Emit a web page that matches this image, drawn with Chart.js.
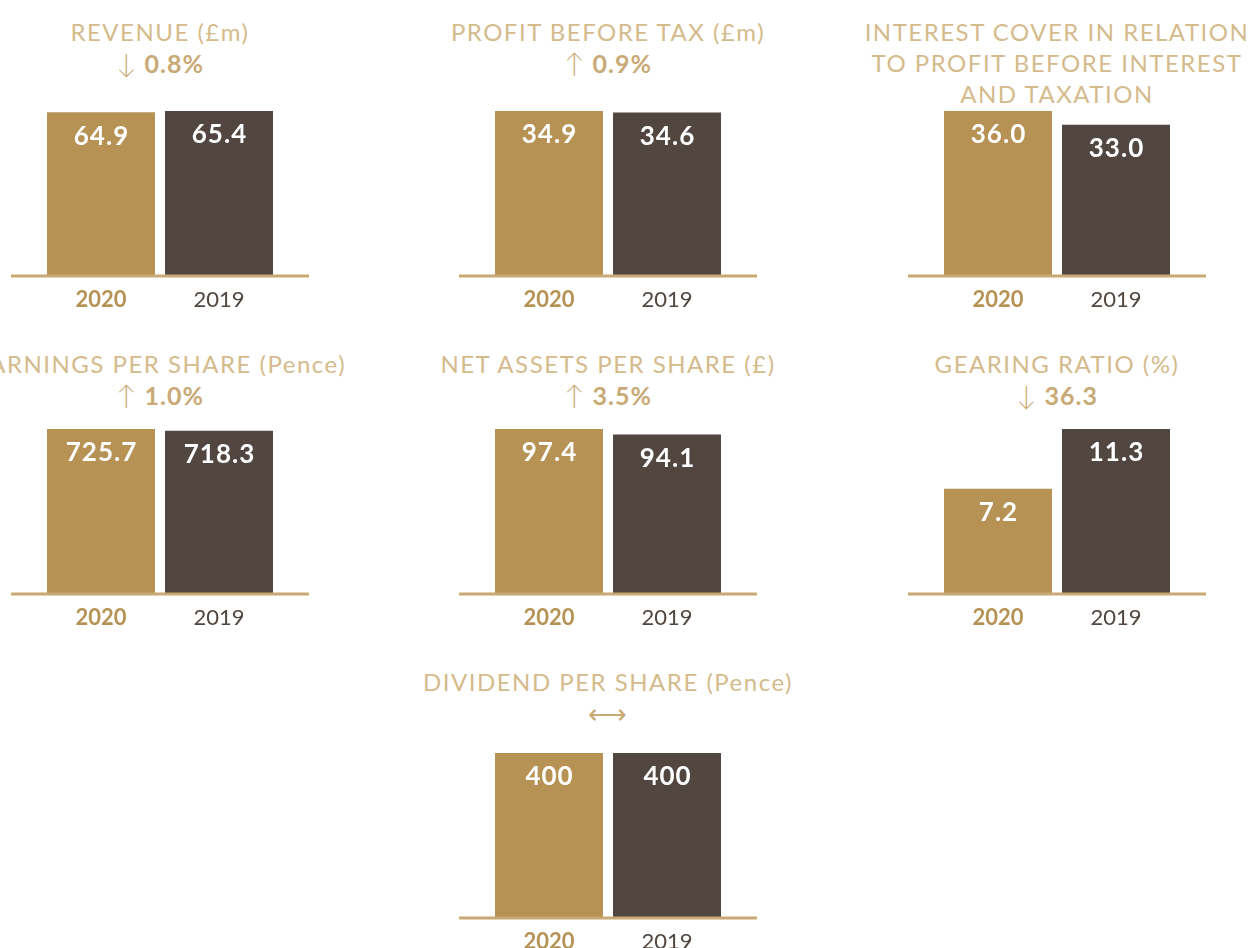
<!DOCTYPE html>
<html>
<head>
<meta charset="utf-8">
<script src="https://cdn.jsdelivr.net/npm/chart.js@4.4.0/dist/chart.umd.min.js"></script>
<style>
  html, body { margin: 0; padding: 0; background: #fff; }
  body { width: 1252px; height: 948px; position: relative; overflow: hidden; font-family: "Lato", "Noto Sans", sans-serif; }
  .titulo { position: absolute; width: 600px; text-align: center; white-space: nowrap;
            font-size: 24px; font-weight: 400; line-height: 31px; color: #d5bb8c; letter-spacing: 1.5px; }
  .titulo .cambio { color: #c9aa76; font-size: 25px; letter-spacing: 1px; }
  .titulo .cambio .fl { font-size: 27px; font-weight: 300; }
  .titulo .cambio b { font-weight: 700; }
  .panel { position: absolute; width: 298px; height: 215px; }
</style>
</head>
<body>
<script>
// Datos de los indicadores
const titulos = [
  ["REVENUE (£m)"],
  ["PROFIT BEFORE TAX (£m)"],
  ["INTEREST COVER IN RELATION", "TO PROFIT BEFORE INTEREST", "AND TAXATION"],
  ["EARNINGS PER SHARE (Pence)"],
  ["NET ASSETS PER SHARE (£)"],
  ["GEARING RATIO (%)"],
  ["DIVIDEND PER SHARE (Pence)"]
];
const flechas = ["↓", "↑", "", "↑", "↑", "↓", "⟷"];
const cambios = ["0.8%", "0.9%", "", "1.0%", "3.5%", "36.3", ""];
const anios = ["2020", "2019"];
const valores2020 = [64.9, 34.9, 36.0, 725.7, 97.4, 7.2, 400];
const valores2019 = [65.4, 34.6, 33.0, 718.3, 94.1, 11.3, 400];
const decimales = [1, 1, 1, 1, 1, 1, 0];

// Posición de cada panel: centro horizontal, base de las barras, inicio del título
const centros = [160, 608, 1057, 160, 608, 1057, 608];
const bases = [276, 276, 276, 594, 594, 594, 918];
const topesTitulo = [16, 16, 16, 348, 348, 348, 666];

const DORADO = "#b69255";
const MARRON = "#524640";
const LINEA = "#c8a974";

// Etiquetas blancas dentro de las barras y línea base
const pluginEtiquetas = {
  id: "etiquetas",
  afterDatasetsDraw(chart, args, opts) {
    const { ctx } = chart;
    const meta = chart.getDatasetMeta(0);
    const y0 = chart.scales.y.getPixelForValue(0);

    ctx.save();
    ctx.strokeStyle = LINEA;
    ctx.lineWidth = 3;
    ctx.beginPath();
    ctx.moveTo(0, y0);
    ctx.lineTo(chart.width, y0);
    ctx.stroke();

    ctx.fillStyle = "#ffffff";
    ctx.font = "700 26px Lato, 'Noto Sans', sans-serif";
    ctx.letterSpacing = "1px";
    ctx.textAlign = "center";
    ctx.textBaseline = "middle";
    meta.data.forEach((barra, i) => {
      const v = chart.data.datasets[0].data[i];
      ctx.fillText(v.toFixed(opts.decimales), barra.x + 0.5, barra.y + 24);
    });
    ctx.restore();
  }
};

function crearPanel(i) {
  // Título en texto
  const t = document.createElement("div");
  t.className = "titulo";
  t.style.left = (centros[i] - 300) + "px";
  t.style.top = topesTitulo[i] + "px";
  let html = titulos[i].map(l => `<div>${l}</div>`).join("");
  if (flechas[i]) {
    html += `<div class="cambio"><span class="fl">${flechas[i]}</span>${cambios[i] ? " <b>" + cambios[i] + "</b>" : ""}</div>`;
  }
  t.innerHTML = html;
  document.body.appendChild(t);

  // Gráfico
  const div = document.createElement("div");
  div.className = "panel";
  div.style.left = (centros[i] - 149) + "px";
  div.style.top = (bases[i] - 175) + "px";
  const canvas = document.createElement("canvas");
  div.appendChild(canvas);
  document.body.appendChild(div);

  const datos = [valores2020[i], valores2019[i]];

  new Chart(canvas, {
    type: "bar",
    data: {
      labels: anios,
      datasets: [{
        data: datos,
        backgroundColor: [DORADO, MARRON],
        borderWidth: 0,
        categoryPercentage: 1,
        barPercentage: 0.915
      }]
    },
    options: {
      responsive: true,
      maintainAspectRatio: false,
      animation: false,
      layout: { padding: { top: 10, left: 31, right: 31, bottom: 0 } },
      plugins: {
        legend: { display: false },
        tooltip: { enabled: false },
        etiquetas: { decimales: decimales[i] }
      },
      scales: {
        x: {
          grid: { display: false },
          border: { display: false },
          afterFit: (escala) => { escala.height = 40; },
          ticks: {
            padding: 3,
            color: (c) => c.index === 0 ? DORADO : MARRON,
            font: (c) => ({ family: "Lato, 'Noto Sans', sans-serif", size: 22, weight: c.index === 0 ? "700" : "400" })
          }
        },
        y: {
          display: false,
          min: 0,
          max: Math.max(...datos)
        }
      }
    },
    plugins: [pluginEtiquetas]
  });
}

for (let i = 0; i < titulos.length; i++) crearPanel(i);
</script>
</body>
</html>
